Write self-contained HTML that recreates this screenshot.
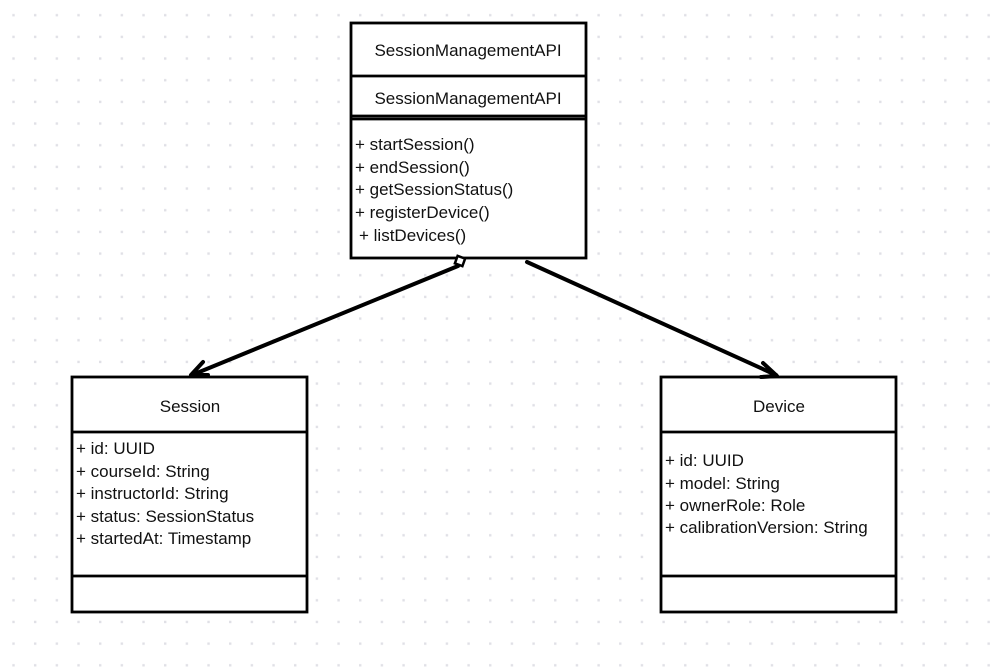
<!DOCTYPE html>
<html><head><meta charset="utf-8"><style>
html,body{margin:0;padding:0;background:#fff;}
svg{display:block;}
text{font-family:"Liberation Sans",sans-serif;font-size:17px;fill:#111;}
</style></head><body>
<svg width="990" height="672" viewBox="0 0 990 672" xmlns="http://www.w3.org/2000/svg">
<defs>
<pattern id="dots" x="0" y="0" width="21.67" height="21.67" patternUnits="userSpaceOnUse">
<rect x="12.3" y="14" width="2.4" height="2.4" fill="#e0e0e6"/>
</pattern>
</defs>
<rect width="990" height="672" fill="#fff"/>
<rect width="990" height="672" fill="url(#dots)"/>

<g fill="#fff" stroke="#000" stroke-width="2.8">
<rect x="351" y="23" width="235" height="235"/>
<line x1="351" y1="76" x2="586" y2="76"/>
<line x1="351" y1="116" x2="586" y2="116"/>
<line x1="351" y1="119" x2="586" y2="119"/>
<rect x="72" y="377" width="235" height="235"/>
<line x1="72" y1="432" x2="307" y2="432"/>
<line x1="72" y1="576" x2="307" y2="576"/>
<rect x="661" y="377" width="235" height="235"/>
<line x1="661" y1="432" x2="896" y2="432"/>
<line x1="661" y1="576" x2="896" y2="576"/>
</g>

<text x="468" y="56" text-anchor="middle">SessionManagementAPI</text>
<text x="468" y="104" text-anchor="middle">SessionManagementAPI</text>
<text x="355" y="150">+ startSession()</text>
<text x="355" y="173">+ endSession()</text>
<text x="355" y="195">+ getSessionStatus()</text>
<text x="355" y="218">+ registerDevice()</text>
<text x="359" y="241">+ listDevices()</text>

<text x="190" y="412" text-anchor="middle">Session</text>
<text x="76" y="454">+ id: UUID</text>
<text x="76" y="477">+ courseId: String</text>
<text x="76" y="499">+ instructorId: String</text>
<text x="76" y="522">+ status: SessionStatus</text>
<text x="76" y="544">+ startedAt: Timestamp</text>

<text x="779" y="412" text-anchor="middle">Device</text>
<text x="665" y="466">+ id: UUID</text>
<text x="665" y="489">+ model: String</text>
<text x="665" y="511">+ ownerRole: Role</text>
<text x="665" y="533">+ calibrationVersion: String</text>

<g stroke="#000" stroke-width="4" fill="none" stroke-linecap="round" stroke-linejoin="round">
<line x1="458" y1="266" x2="192" y2="375"/>
<polyline points="203,362 191,375 208,375"/>
<line x1="527" y1="262" x2="776" y2="375"/>
<polyline points="763,363 777,376 761,377"/>
</g>
<rect x="456" y="257" width="8" height="8" fill="#fff" stroke="#000" stroke-width="2.5" transform="rotate(20 460 261)"/>
</svg>
</body></html>
